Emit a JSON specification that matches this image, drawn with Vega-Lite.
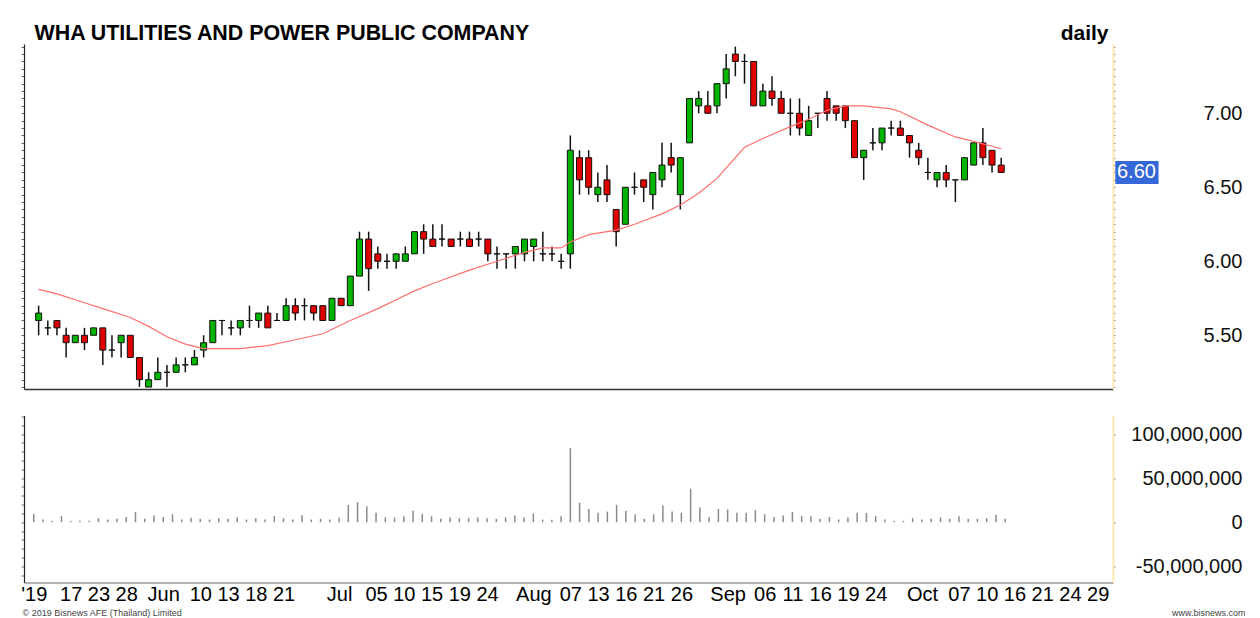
{
  "$schema": "https://vega.github.io/schema/vega-lite/v6.json",
  "background": "white",
  "padding": {"left": 20, "top": 22, "right": 0, "bottom": 0},
  "spacing": 17.5,
  "config": {"view": {"stroke": null}, "font": "Liberation Sans", "axis": {"grid": false}},
  "datasets": {
    "candles": [
      {"i":0,"o":5.6,"h":5.7,"l":5.5,"c":5.65,"v":9500000},
      {"i":1,"o":5.55,"h":5.6,"l":5.5,"c":5.55,"v":3000000},
      {"i":2,"o":5.6,"h":5.6,"l":5.5,"c":5.55,"v":1500000},
      {"i":3,"o":5.5,"h":5.55,"l":5.35,"c":5.45,"v":6800000},
      {"i":4,"o":5.45,"h":5.5,"l":5.45,"c":5.5,"v":1500000},
      {"i":5,"o":5.5,"h":5.55,"l":5.4,"c":5.45,"v":1500000},
      {"i":6,"o":5.5,"h":5.55,"l":5.5,"c":5.55,"v":1500000},
      {"i":7,"o":5.55,"h":5.55,"l":5.3,"c":5.4,"v":4500000},
      {"i":8,"o":5.4,"h":5.5,"l":5.35,"c":5.4,"v":3000000},
      {"i":9,"o":5.45,"h":5.5,"l":5.35,"c":5.5,"v":3800000},
      {"i":10,"o":5.5,"h":5.5,"l":5.35,"c":5.35,"v":6000000},
      {"i":11,"o":5.35,"h":5.35,"l":5.15,"c":5.2,"v":11400000},
      {"i":12,"o":5.15,"h":5.25,"l":5.15,"c":5.2,"v":4000000},
      {"i":13,"o":5.2,"h":5.35,"l":5.2,"c":5.25,"v":7600000},
      {"i":14,"o":5.25,"h":5.3,"l":5.15,"c":5.25,"v":6000000},
      {"i":15,"o":5.25,"h":5.35,"l":5.25,"c":5.3,"v":9000000},
      {"i":16,"o":5.3,"h":5.35,"l":5.25,"c":5.3,"v":3000000},
      {"i":17,"o":5.3,"h":5.4,"l":5.3,"c":5.35,"v":5000000},
      {"i":18,"o":5.4,"h":5.5,"l":5.35,"c":5.45,"v":3800000},
      {"i":19,"o":5.45,"h":5.6,"l":5.45,"c":5.6,"v":3000000},
      {"i":20,"o":5.6,"h":5.6,"l":5.5,"c":5.6,"v":4500000},
      {"i":21,"o":5.55,"h":5.6,"l":5.5,"c":5.55,"v":3800000},
      {"i":22,"o":5.55,"h":5.6,"l":5.5,"c":5.6,"v":5300000},
      {"i":23,"o":5.6,"h":5.7,"l":5.55,"c":5.6,"v":3000000},
      {"i":24,"o":5.6,"h":5.65,"l":5.55,"c":5.65,"v":4500000},
      {"i":25,"o":5.65,"h":5.7,"l":5.55,"c":5.55,"v":3000000},
      {"i":26,"o":5.6,"h":5.65,"l":5.6,"c":5.6,"v":6800000},
      {"i":27,"o":5.6,"h":5.75,"l":5.6,"c":5.7,"v":4500000},
      {"i":28,"o":5.7,"h":5.75,"l":5.6,"c":5.65,"v":3000000},
      {"i":29,"o":5.7,"h":5.75,"l":5.6,"c":5.7,"v":8000000},
      {"i":30,"o":5.7,"h":5.7,"l":5.6,"c":5.65,"v":3000000},
      {"i":31,"o":5.7,"h":5.7,"l":5.6,"c":5.6,"v":3800000},
      {"i":32,"o":5.6,"h":5.75,"l":5.6,"c":5.75,"v":3000000},
      {"i":33,"o":5.75,"h":5.75,"l":5.7,"c":5.7,"v":5000000},
      {"i":34,"o":5.7,"h":5.9,"l":5.7,"c":5.9,"v":19700000},
      {"i":35,"o":5.9,"h":6.2,"l":5.9,"c":6.15,"v":22700000},
      {"i":36,"o":6.15,"h":6.2,"l":5.8,"c":5.95,"v":18200000},
      {"i":37,"o":6.05,"h":6.1,"l":5.95,"c":6.0,"v":10600000},
      {"i":38,"o":6.0,"h":6.05,"l":5.95,"c":6.0,"v":5300000},
      {"i":39,"o":6.0,"h":6.05,"l":5.95,"c":6.05,"v":5300000},
      {"i":40,"o":6.0,"h":6.1,"l":6.0,"c":6.05,"v":6800000},
      {"i":41,"o":6.05,"h":6.2,"l":6.05,"c":6.2,"v":12900000},
      {"i":42,"o":6.2,"h":6.25,"l":6.05,"c":6.15,"v":9500000},
      {"i":43,"o":6.15,"h":6.25,"l":6.1,"c":6.1,"v":6800000},
      {"i":44,"o":6.15,"h":6.25,"l":6.1,"c":6.15,"v":3800000},
      {"i":45,"o":6.15,"h":6.15,"l":6.1,"c":6.1,"v":5300000},
      {"i":46,"o":6.15,"h":6.2,"l":6.1,"c":6.15,"v":4500000},
      {"i":47,"o":6.15,"h":6.2,"l":6.1,"c":6.1,"v":4500000},
      {"i":48,"o":6.15,"h":6.2,"l":6.1,"c":6.15,"v":5300000},
      {"i":49,"o":6.15,"h":6.15,"l":6.0,"c":6.05,"v":4500000},
      {"i":50,"o":6.05,"h":6.1,"l":5.95,"c":6.05,"v":3800000},
      {"i":51,"o":6.05,"h":6.05,"l":5.95,"c":6.05,"v":5300000},
      {"i":52,"o":6.05,"h":6.1,"l":5.95,"c":6.1,"v":7600000},
      {"i":53,"o":6.05,"h":6.15,"l":6.0,"c":6.15,"v":5300000},
      {"i":54,"o":6.1,"h":6.15,"l":6.0,"c":6.15,"v":9800000},
      {"i":55,"o":6.05,"h":6.2,"l":6.0,"c":6.05,"v":3000000},
      {"i":56,"o":6.05,"h":6.1,"l":6.0,"c":6.05,"v":2700000},
      {"i":57,"o":6.0,"h":6.05,"l":5.95,"c":6.0,"v":6800000},
      {"i":58,"o":6.05,"h":6.85,"l":5.95,"c":6.75,"v":84000000},
      {"i":59,"o":6.7,"h":6.75,"l":6.45,"c":6.55,"v":22000000},
      {"i":60,"o":6.7,"h":6.75,"l":6.45,"c":6.5,"v":15000000},
      {"i":61,"o":6.45,"h":6.6,"l":6.4,"c":6.5,"v":10600000},
      {"i":62,"o":6.55,"h":6.65,"l":6.4,"c":6.45,"v":12000000},
      {"i":63,"o":6.35,"h":6.35,"l":6.1,"c":6.2,"v":19700000},
      {"i":64,"o":6.25,"h":6.5,"l":6.25,"c":6.5,"v":12900000},
      {"i":65,"o":6.5,"h":6.6,"l":6.45,"c":6.5,"v":9000000},
      {"i":66,"o":6.55,"h":6.55,"l":6.4,"c":6.5,"v":3800000},
      {"i":67,"o":6.45,"h":6.6,"l":6.35,"c":6.6,"v":9000000},
      {"i":68,"o":6.55,"h":6.8,"l":6.5,"c":6.65,"v":19000000},
      {"i":69,"o":6.7,"h":6.8,"l":6.6,"c":6.65,"v":12000000},
      {"i":70,"o":6.45,"h":6.7,"l":6.35,"c":6.7,"v":10600000},
      {"i":71,"o":6.8,"h":7.1,"l":6.8,"c":7.1,"v":38000000},
      {"i":72,"o":7.05,"h":7.15,"l":7.0,"c":7.1,"v":16700000},
      {"i":73,"o":7.05,"h":7.15,"l":7.0,"c":7.0,"v":5700000},
      {"i":74,"o":7.05,"h":7.2,"l":7.0,"c":7.2,"v":15000000},
      {"i":75,"o":7.2,"h":7.4,"l":7.1,"c":7.3,"v":14400000},
      {"i":76,"o":7.4,"h":7.45,"l":7.25,"c":7.35,"v":10600000},
      {"i":77,"o":7.35,"h":7.4,"l":7.2,"c":7.35,"v":10600000},
      {"i":78,"o":7.35,"h":7.35,"l":7.05,"c":7.05,"v":13600000},
      {"i":79,"o":7.05,"h":7.2,"l":7.05,"c":7.15,"v":9000000},
      {"i":80,"o":7.15,"h":7.25,"l":7.05,"c":7.1,"v":6000000},
      {"i":81,"o":7.1,"h":7.15,"l":7.0,"c":7.0,"v":7600000},
      {"i":82,"o":7.0,"h":7.1,"l":6.85,"c":7.0,"v":11400000},
      {"i":83,"o":7.0,"h":7.1,"l":6.85,"c":6.9,"v":6800000},
      {"i":84,"o":6.85,"h":7.05,"l":6.85,"c":6.95,"v":6800000},
      {"i":85,"o":7.0,"h":7.0,"l":6.9,"c":7.0,"v":3800000},
      {"i":86,"o":7.1,"h":7.15,"l":6.95,"c":7.0,"v":6000000},
      {"i":87,"o":7.05,"h":7.05,"l":6.95,"c":7.0,"v":3000000},
      {"i":88,"o":7.05,"h":7.05,"l":6.9,"c":6.95,"v":5300000},
      {"i":89,"o":6.95,"h":6.95,"l":6.7,"c":6.7,"v":10600000},
      {"i":90,"o":6.7,"h":6.75,"l":6.55,"c":6.75,"v":10600000},
      {"i":91,"o":6.8,"h":6.9,"l":6.75,"c":6.8,"v":6800000},
      {"i":92,"o":6.8,"h":6.9,"l":6.75,"c":6.9,"v":3000000},
      {"i":93,"o":6.9,"h":6.95,"l":6.85,"c":6.9,"v":1500000},
      {"i":94,"o":6.9,"h":6.95,"l":6.85,"c":6.85,"v":1500000},
      {"i":95,"o":6.85,"h":6.85,"l":6.7,"c":6.8,"v":4500000},
      {"i":96,"o":6.75,"h":6.8,"l":6.65,"c":6.7,"v":3000000},
      {"i":97,"o":6.6,"h":6.7,"l":6.55,"c":6.6,"v":3800000},
      {"i":98,"o":6.55,"h":6.6,"l":6.5,"c":6.6,"v":5300000},
      {"i":99,"o":6.6,"h":6.65,"l":6.5,"c":6.55,"v":3800000},
      {"i":100,"o":6.55,"h":6.55,"l":6.4,"c":6.55,"v":6800000},
      {"i":101,"o":6.55,"h":6.7,"l":6.55,"c":6.7,"v":3800000},
      {"i":102,"o":6.65,"h":6.8,"l":6.65,"c":6.8,"v":3800000},
      {"i":103,"o":6.8,"h":6.9,"l":6.65,"c":6.7,"v":4500000},
      {"i":104,"o":6.75,"h":6.75,"l":6.6,"c":6.65,"v":8300000},
      {"i":105,"o":6.65,"h":6.7,"l":6.6,"c":6.6,"v":3800000}
    ],
    "ma": [
      {"i":0,"m":5.81},{"i":2,"m":5.78},{"i":5,"m":5.72},{"i":7,"m":5.68},{"i":10,"m":5.62},
      {"i":12,"m":5.56},{"i":14,"m":5.49},{"i":16,"m":5.44},{"i":18,"m":5.41},{"i":20,"m":5.41},
      {"i":22,"m":5.41},{"i":25,"m":5.43},{"i":28,"m":5.47},{"i":31,"m":5.51},{"i":34,"m":5.6},
      {"i":37,"m":5.68},{"i":39,"m":5.74},{"i":41,"m":5.8},{"i":43,"m":5.85},{"i":47,"m":5.94},
      {"i":50,"m":6.0},{"i":53,"m":6.06},{"i":55,"m":6.09},{"i":57,"m":6.09},{"i":58,"m":6.13},
      {"i":60,"m":6.18},{"i":63,"m":6.21},{"i":65,"m":6.25},{"i":68,"m":6.32},{"i":70,"m":6.38},
      {"i":72,"m":6.46},{"i":74,"m":6.56},{"i":77,"m":6.77},{"i":79,"m":6.83},{"i":82,"m":6.91},
      {"i":84,"m":6.96},{"i":86,"m":7.02},{"i":88,"m":7.05},{"i":90,"m":7.05},{"i":93,"m":7.03},
      {"i":94,"m":7.01},{"i":97,"m":6.92},{"i":100,"m":6.84},{"i":102,"m":6.81},{"i":105,"m":6.76}
    ],
    "tag": [{"price": 6.6, "label": "6.60"}]
  },
  "vconcat": [
    {
      "width": 1089,
      "height": 345,
      "layer": [
        {
          "data": {"name": "candles"},
          "mark": {"type": "rule", "color": "#111111", "strokeWidth": 1.5},
          "encoding": {
            "x": {"field": "i", "type": "quantitative",
                  "scale": {"domain": [-1.05, 116.65], "nice": false, "zero": false},
                  "axis": {"orient": "bottom", "labels": false, "ticks": false, "domainColor": "#333333", "domainWidth": 1.5, "title": null}},
            "y": {"field": "l", "type": "quantitative",
                  "scale": {"domain": [5.137, 7.468], "nice": false, "zero": false},
                  "axis": {"orient": "left", "labels": false, "tickSize": 3, "tickColor": "#666666", "domainColor": "#222222", "domainWidth": 1.2,
                           "values": [5.15,5.2,5.25,5.3,5.35,5.4,5.45,5.5,5.55,5.6,5.65,5.7,5.75,5.8,5.85,5.9,5.95,6,6.05,6.1,6.15,6.2,6.25,6.3,6.35,6.4,6.45,6.5,6.55,6.6,6.65,6.7,6.75,6.8,6.85,6.9,6.95,7,7.05,7.1,7.15,7.2,7.25,7.3,7.35,7.4,7.45],
                           "title": "WHA UTILITIES AND POWER PUBLIC COMPANY", "titleAngle": 0, "titleAlign": "left", "titleBaseline": "alphabetic",
                           "titleX": 10, "titleY": -5, "titleFontSize": 21.4, "titleFontWeight": "bold", "titleColor": "#000000"}},
            "y2": {"field": "h"}
          }
        },
        {
          "data": {"name": "candles"},
          "mark": {"type": "bar", "size": 6, "stroke": "#111111", "strokeWidth": 1},
          "encoding": {
            "x": {"field": "i", "type": "quantitative"},
            "y": {"field": "o", "type": "quantitative",
                  "axis": {"orient": "right", "tickSize": 2, "tickColor": "#888888", "domainColor": "#ffe49a", "domainWidth": 1.5,
                           "values": [5.15,5.2,5.25,5.3,5.35,5.4,5.45,5.5,5.55,5.6,5.65,5.7,5.75,5.8,5.85,5.9,5.95,6,6.05,6.1,6.15,6.2,6.25,6.3,6.35,6.4,6.45,6.5,6.55,6.6,6.65,6.7,6.75,6.8,6.85,6.9,6.95,7,7.05,7.1,7.15,7.2,7.25,7.3,7.35,7.4,7.45],
                           "labelExpr": "abs(datum.value*2 - round(datum.value*2)) < 0.01 ? format(datum.value, '.2f') : ''",
                           "labelAlign": "right", "labelBaseline": "middle", "labelPadding": 127, "labelFontSize": 20, "labelColor": "#111111",
                           "labelOverlap": false, "labelBound": false, "labelFlush": false,
                           "title": "daily", "titleAngle": 0, "titleAlign": "right", "titleBaseline": "alphabetic",
                           "titleX": -5, "titleY": -5, "titleFontSize": 21, "titleFontWeight": "bold", "titleColor": "#000000"}},
            "y2": {"field": "c"},
            "fill": {"condition": [{"test": "datum.c > datum.o", "value": "#00b400"}, {"test": "datum.c < datum.o", "value": "#e00000"}], "value": "#111111"}
          }
        },
        {
          "data": {"name": "ma"},
          "mark": {"type": "line", "color": "#ff6f6f", "strokeWidth": 1.2},
          "encoding": {
            "x": {"field": "i", "type": "quantitative"},
            "y": {"field": "m", "type": "quantitative", "axis": null}
          }
        },
        {
          "data": {"name": "tag"},
          "mark": {"type": "point", "shape": "M0.1,-0.5H1.98V0.5H0.1Z", "filled": true, "size": 2116, "color": "#3468d8", "opacity": 1, "strokeWidth": 0},
          "encoding": {
            "x": {"value": "width"},
            "y": {"field": "price", "type": "quantitative", "axis": null}
          }
        },
        {
          "data": {"name": "tag"},
          "mark": {"type": "text", "align": "left", "baseline": "middle", "dx": 4, "fontSize": 20, "color": "#ffffff"},
          "encoding": {
            "x": {"value": "width"},
            "y": {"field": "price", "type": "quantitative", "axis": null},
            "text": {"field": "label"}
          }
        }
      ],
      "resolve": {"axis": {"y": "independent"}}
    },
    {
      "width": 1089,
      "height": 167,
      "layer": [
        {
          "data": {"name": "candles"},
          "mark": {"type": "rule", "color": "#8a8a8a", "strokeWidth": 1.5},
          "encoding": {
            "x": {"field": "i", "type": "quantitative",
                  "scale": {"domain": [-1.05, 116.65], "nice": false, "zero": false},
                  "axis": {"orient": "bottom",
                           "values": [0,4,7,10,14,18,21,24,27,33,37,40,43,46,49,54,58,61,64,67,70,75,79,82,85,88,91,96,100,103,106,109,112,115],
                           "labelExpr": "[\"'19\",\"17\",\"23\",\"28\",\"Jun\",\"10\",\"13\",\"18\",\"21\",\"Jul\",\"05\",\"10\",\"15\",\"19\",\"24\",\"Aug\",\"07\",\"13\",\"16\",\"21\",\"26\",\"Sep\",\"06\",\"11\",\"16\",\"19\",\"24\",\"Oct\",\"07\",\"10\",\"16\",\"21\",\"24\",\"29\"][indexof([0,4,7,10,14,18,21,24,27,33,37,40,43,46,49,54,58,61,64,67,70,75,79,82,85,88,91,96,100,103,106,109,112,115], datum.value)]",
                           "labelFontSize": 20, "labelColor": "#000000", "tickSize": 0, "labelPadding": 2,
                           "labelOverlap": false, "labelBound": false, "labelFlush": false,
                           "domainColor": "#9a9a9a", "domainWidth": 1.5,
                           "title": "© 2019 Bisnews AFE (Thailand) Limited", "titleX": -2, "titleY": 30, "titleAlign": "left", "titleBaseline": "middle",
                           "titleFontSize": 9, "titleFontWeight": "normal", "titleColor": "#444444"}},
            "y": {"field": "v", "type": "quantitative",
                  "scale": {"domain": [-68400000, 121000000], "nice": false, "zero": false},
                  "axis": {"orient": "right", "tickSize": 2, "tickColor": "#888888", "domainColor": "#ffe49a", "domainWidth": 1.5,
                           "values": [-50000000, 0, 50000000, 100000000],
                           "labelExpr": "datum.value < 0 ? '-' + format(-datum.value, ',d') : format(datum.value, ',d')",
                           "labelAlign": "right", "labelBaseline": "middle", "labelPadding": 127, "labelFontSize": 20, "labelColor": "#111111",
                           "labelOverlap": false, "labelBound": false, "labelFlush": false,
                           "title": "www.bisnews.com", "titleAngle": 0, "titleAlign": "right", "titleBaseline": "middle",
                           "titleX": 132, "titleY": 197, "titleFontSize": 9, "titleFontWeight": "normal", "titleColor": "#444444"}},
            "y2": {"datum": 0}
          }
        },
        {
          "mark": {"type": "rule", "strokeOpacity": 0},
          "encoding": {
            "y": {"datum": 0, "type": "quantitative",
                  "axis": {"orient": "left", "labels": false, "tickSize": 3, "tickColor": "#777777", "domainColor": "#222222", "domainWidth": 1.2,
                           "values": [-60000000,-50000000,-40000000,-30000000,-20000000,-10000000,0,10000000,20000000,30000000,40000000,50000000,60000000,70000000,80000000,90000000,100000000,110000000,120000000],
                           "title": null}}
          }
        }
      ],
      "resolve": {"axis": {"y": "independent"}}
    }
  ]
}
